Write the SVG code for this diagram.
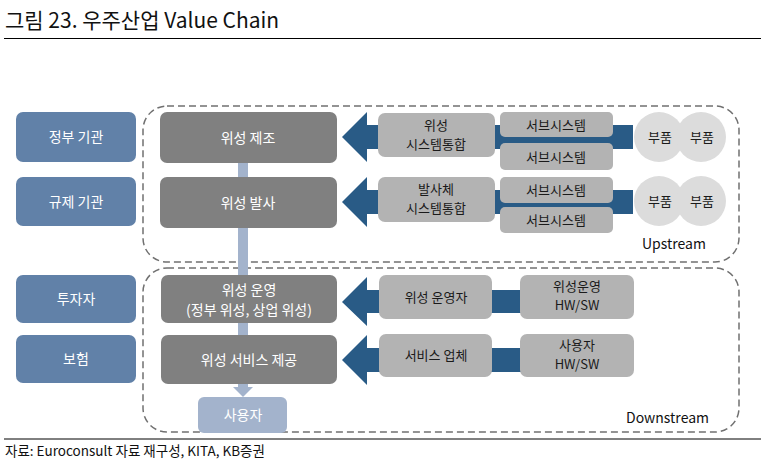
<svg xmlns="http://www.w3.org/2000/svg" width="761" height="461" viewBox="0 0 761 461">
<style>
.t{font-family:"Noto Sans CJK KR","Noto Sans",sans-serif;}
.gov{fill:#6181a8;}
.dark{fill:#808080;}
.lg{fill:#b3b3b3;}
.circ{fill:#dcdcdc;}
.wt{fill:#ffffff;font-size:14px;text-anchor:middle;}
.bt{fill:#1a1a1a;font-size:13px;text-anchor:middle;}
.arr{fill:#295b86;}
.dash{fill:none;stroke:#707070;stroke-width:1.5;stroke-dasharray:7,4;}
</style>
<rect width="761" height="461" fill="#ffffff"/>
<text class="t" x="5" y="28" font-size="21" fill="#111">그림 23. 우주산업 Value Chain</text>
<line x1="4" y1="38.5" x2="761" y2="38.5" stroke="#000" stroke-width="1"/>

<g id="regions">
<rect class="dash" x="143" y="106" width="596" height="156" rx="24"/>
<rect class="dash" x="143" y="268" width="596" height="164" rx="24"/>
<text class="t" x="642" y="249" font-size="14" fill="#111">Upstream</text>
<text class="t" x="626" y="423" font-size="14" fill="#111">Downstream</text>
</g>

<g id="connectors">
<rect x="238" y="163" width="10" height="224" fill="#a3b3cc"/>
<polygon points="233,387 253,387 243,397" fill="#a3b3cc"/>
<polygon class="arr" points="342,137 367,112 367,125 633,125 633,149 367,149 367,162"/>
<polygon class="arr" points="342,202 367,177 367,190 633,190 633,214 367,214 367,227"/>
<polygon class="arr" points="342,302 367,277 367,290 573,290 573,313 367,313 367,326"/>
<polygon class="arr" points="342,360 367,335 367,348 573,348 573,372 367,372 367,385"/>
</g>

<g id="gov1"><rect class="gov" x="16" y="112" width="120" height="50" rx="7"/><text class="t wt" x="76" y="142">정부 기관</text></g>
<g id="gov2"><rect class="gov" x="16" y="177" width="120" height="49" rx="7"/><text class="t wt" x="76" y="207">규제 기관</text></g>
<g id="gov3"><rect class="gov" x="16" y="275" width="120" height="48" rx="7"/><text class="t wt" x="76" y="304">투자자</text></g>
<g id="gov4"><rect class="gov" x="16" y="335" width="120" height="48" rx="7"/><text class="t wt" x="76" y="364">보험</text></g>

<g id="mfg"><rect class="dark" x="160" y="112" width="177" height="51" rx="7"/><text class="t wt" x="248" y="143">위성 제조</text></g>
<g id="launch"><rect class="dark" x="160" y="177" width="177" height="51" rx="7"/><text class="t wt" x="248" y="208">위성 발사</text></g>
<g id="ops"><rect class="dark" x="161" y="275" width="176" height="48" rx="7"/><text class="t wt" x="249" y="295">위성 운영</text><text class="t wt" x="249" y="315">(정부 위성, 상업 위성)</text></g>
<g id="svc"><rect class="dark" x="161" y="335" width="176" height="49" rx="7"/><text class="t wt" x="249" y="365">위성 서비스 제공</text></g>
<g id="user"><rect x="198" y="397" width="89" height="36" rx="6" fill="#a3b3cc"/><text class="t wt" x="243" y="420">사용자</text></g>

<g id="satint"><rect class="lg" x="378" y="113" width="117" height="44" rx="7"/><text class="t bt" x="436" y="130">위성</text><text class="t bt" x="436" y="149">시스템통합</text></g>
<g id="sub1"><rect class="lg" x="500" y="112" width="113" height="25" rx="5"/><text class="t bt" x="556" y="130">서브시스템</text></g>
<g id="sub2"><rect class="lg" x="500" y="143" width="113" height="27" rx="5"/><text class="t bt" x="556" y="162">서브시스템</text></g>
<g id="lvint"><rect class="lg" x="378" y="177" width="117" height="45" rx="7"/><text class="t bt" x="436" y="194">발사체</text><text class="t bt" x="436" y="213">시스템통합</text></g>
<g id="sub3"><rect class="lg" x="500" y="177" width="113" height="26" rx="5"/><text class="t bt" x="556" y="195">서브시스템</text></g>
<g id="sub4"><rect class="lg" x="500" y="207" width="113" height="26" rx="5"/><text class="t bt" x="556" y="225">서브시스템</text></g>

<g id="parts1"><circle class="circ" cx="659" cy="137" r="25"/><circle class="circ" cx="701" cy="137" r="25"/><text class="t bt" x="660" y="142">부품</text><text class="t bt" x="702" y="142">부품</text></g>
<g id="parts2"><circle class="circ" cx="659" cy="201" r="25"/><circle class="circ" cx="701" cy="201" r="25"/><text class="t bt" x="660" y="206">부품</text><text class="t bt" x="702" y="206">부품</text></g>

<g id="operator"><rect class="lg" x="379" y="275" width="113" height="44" rx="7"/><text class="t bt" x="436" y="302">위성 운영자</text></g>
<g id="opshw"><rect class="lg" x="520" y="275" width="114" height="44" rx="7"/><text class="t bt" x="577" y="291">위성운영</text><text class="t bt" x="577" y="310">HW/SW</text></g>
<g id="svcco"><rect class="lg" x="379" y="334" width="113" height="43" rx="7"/><text class="t bt" x="436" y="360">서비스 업체</text></g>
<g id="userhw"><rect class="lg" x="520" y="334" width="114" height="43" rx="7"/><text class="t bt" x="577" y="350">사용자</text><text class="t bt" x="577" y="369">HW/SW</text></g>

<line x1="4" y1="439" x2="761" y2="439" stroke="#000" stroke-width="1"/>
<text class="t" x="5" y="456" font-size="13.5" fill="#111">자료: Euroconsult 자료 재구성, KITA, KB증권</text>
</svg>
